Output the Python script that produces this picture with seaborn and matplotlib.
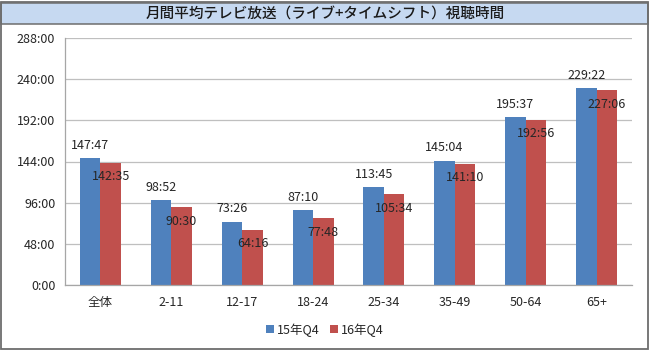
import matplotlib
matplotlib.use("Agg")
import matplotlib.pyplot as plt
import seaborn as sns
import pandas as pd
from matplotlib.ticker import FuncFormatter, FixedLocator, MultipleLocator
from matplotlib.patches import Rectangle

categories = ["全体", "2-11", "12-17", "18-24", "25-34", "35-49", "50-64", "65+"]
series_names = ["15年Q4", "16年Q4"]
q4_2015 = ["147:47", "98:52", "73:26", "87:10", "113:45", "145:04", "195:37", "229:22"]
q4_2016 = ["142:35", "90:30", "64:16", "77:48", "105:34", "141:10", "192:56", "227:06"]
title = "月間平均テレビ放送（ライブ+タイムシフト）視聴時間"

def to_hours(s):
    h, m = s.split(":")
    return int(h) + int(m) / 60.0

rows = []
for c, a, b in zip(categories, q4_2015, q4_2016):
    rows.append({"cat": c, "series": series_names[0], "val": to_hours(a), "lab": a})
    rows.append({"cat": c, "series": series_names[1], "val": to_hours(b), "lab": b})
df = pd.DataFrame(rows)

sns.set_theme(style="white")
plt.rcParams["font.family"] = ["Noto Sans CJK JP", "DejaVu Sans"]

W, H = 650, 353
fig = plt.figure(figsize=(W / 100, H / 100), dpi=100)
ax = fig.add_axes([65 / W, 1 - 285 / H, (632 - 65) / W, (285 - 38) / H])

colors = ["#4F81BD", "#C0504D"]
sns.barplot(data=df, x="cat", y="val", hue="series", order=categories,
            hue_order=series_names, palette=colors, width=0.58, ax=ax,
            saturation=1, legend=True, linewidth=0)

FS = 9
ax.set_ylim(0, 288)
ax.set_xlim(-0.5, len(categories) - 0.5)
ax.yaxis.set_major_locator(MultipleLocator(48))
ax.yaxis.set_major_formatter(FuncFormatter(lambda v, p: f"{int(round(v))}:00"))
ax.grid(axis="y", color="#BFBFBF", linewidth=0.9)
ax.set_axisbelow(True)
ax.set_xlabel("")
ax.set_ylabel("")

for s in ["top", "right"]:
    ax.spines[s].set_visible(False)
for s in ["left", "bottom"]:
    ax.spines[s].set_color("#A6A6A6")
    ax.spines[s].set_linewidth(0.9)

ax.tick_params(axis="y", length=4, color="#A6A6A6", width=0.9, pad=3, labelsize=FS, colors="#A6A6A6", labelcolor="#262626")
ax.tick_params(axis="x", which="major", length=0, pad=8, labelsize=FS, labelcolor="#262626")
ax.xaxis.set_minor_locator(FixedLocator([i - 0.5 for i in range(len(categories) + 1)]))
ax.tick_params(axis="x", which="minor", length=4, color="#A6A6A6", width=0.9)

labels_by_series = [q4_2015, q4_2016]
offsets = [9.5, -10]
for cont, labs, off in zip(ax.containers, labels_by_series, offsets):
    for bar, lab in zip(cont, labs):
        x = bar.get_x() + bar.get_width() / 2
        y = bar.get_height()
        ax.annotate(lab, (x, y), xytext=(0, off), textcoords="offset points",
                    ha="center", va="center", fontsize=FS, color="#262626")

leg = ax.legend(loc="center", bbox_to_anchor=(0.5, 1 - 330 / H),
                bbox_transform=fig.transFigure, ncol=2, frameon=False,
                fontsize=FS, handlelength=0.6, handleheight=0.6,
                handletextpad=0.3, columnspacing=0.8)
for t in leg.get_texts():
    t.set_color("#262626")

# title band and outer border
fig.patches.append(Rectangle((1 / W, 1 - 24 / H), 647 / W, 21 / H,
                             transform=fig.transFigure, facecolor="#C6D9F1",
                             edgecolor="#6D6D6D", linewidth=1.1, zorder=0))
fig.patches.append(Rectangle((1 / W, 1 - 349 / H), 647 / W, 347 / H,
                             transform=fig.transFigure, facecolor="none",
                             edgecolor="#6D6D6D", linewidth=1.3, zorder=5))
fig.text(0.5, 1 - 13.5 / H, title, ha="center", va="center", fontsize=10.5,
         fontweight="medium", color="#1a1a1a")

fig.savefig("out.png", dpi=100)
